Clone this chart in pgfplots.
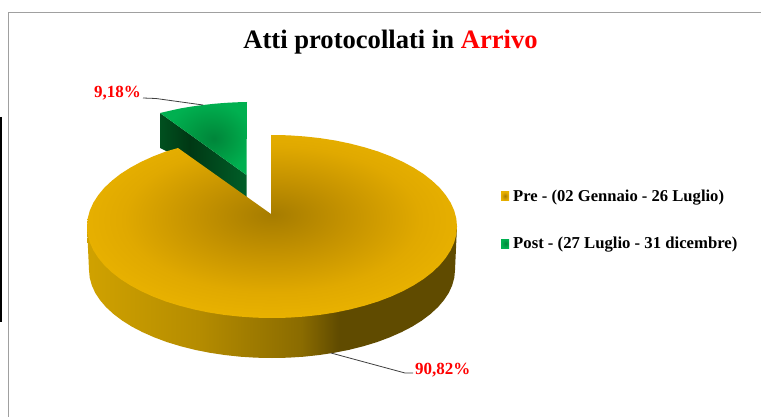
\documentclass[border=0pt]{standalone}
\usepackage{pgfplots}
\pgfplotsset{compat=1.18}
\usepackage{fontspec}
\setmainfont{Liberation Serif}
\definecolor{gA}{HTML}{A67C00}
\definecolor{gB}{HTML}{C49200}
\definecolor{gC}{HTML}{E0A900}
\definecolor{gD}{HTML}{E9B200}
\definecolor{sA}{HTML}{D0A200}
\definecolor{sB}{HTML}{B58C00}
\definecolor{sC}{HTML}{8A6B00}
\definecolor{sD}{HTML}{604B00}
\definecolor{vA}{HTML}{00853A}
\definecolor{vB}{HTML}{009A43}
\definecolor{vC}{HTML}{00B050}
\definecolor{dA}{HTML}{00501F}
\definecolor{dB}{HTML}{003814}
\definecolor{dC}{HTML}{005E28}
\definecolor{bordergray}{HTML}{A0A0A0}
\definecolor{leader}{HTML}{404040}
\pgfdeclareradialshading{goldtop}{\pgfpoint{0bp}{3.3bp}}{color(0bp)=(gA); color(10bp)=(gB); color(20bp)=(gC); color(27bp)=(gD); color(50bp)=(gD)}
\pgfdeclareradialshading{greentop}{\pgfpoint{6bp}{0bp}}{color(0bp)=(vA); color(12bp)=(vB); color(25bp)=(vC); color(50bp)=(vC)}
\pgfdeclarehorizontalshading{goldside}{100bp}{color(0bp)=(sA); color(25bp)=(sA); color(40bp)=(sB); color(54bp)=(sC); color(59bp)=(sD); color(100bp)=(sD)}
\pgfdeclarehorizontalshading{greenside}{100bp}{color(0bp)=(dA); color(25bp)=(dA); color(42bp)=(dB); color(75bp)=(dC); color(100bp)=(dC)}
\begin{document}
\begin{tikzpicture}
\begin{axis}[
  at={(0,0)}, anchor=south west,
  scale only axis, width=761pt, height=417pt,
  xmin=0, xmax=761, ymin=0, ymax=417, y dir=reverse,
  hide axis, clip=true]
% canvas
\addplot[draw=none, fill=white] coordinates {(0,0)(761,0)(761,417)(0,417)} -- cycle;
% frame and bar
\addplot[bordergray, line width=1pt] coordinates {(8.5,417)(8.5,12.5)(761,12.5)};
\addplot[black, line width=2.6pt] coordinates {(1,117)(1,322)};
% green side
\addplot[draw=none, shade, shading=greenside] coordinates {
 (160,113)(246.5,175)(246.5,197)(175,155)(164,150)(160,148)} -- cycle;
% green top (9.18 %)
\addplot[draw=none, shade, shading=greentop] coordinates {
 (160,113)(170,110.7)(181,108.3)(192,106.5)(203,105)(214,103.8)(225,102.9)(236,102.3)(247,102)(246.5,175)} -- cycle;
% gold side
\addplot[draw=none, shade, shading=goldside] coordinates {
 (457,226.5)(455,270)(454.3,277.7)(452.2,285.3)(448.8,292.8)(444,300.1)(437.9,307.2)(430.5,314)(421.9,320.5)(412.2,326.6)(401.4,332.2)(389.6,337.4)(377,342.1)(363.5,346.2)(349.3,349.8)(334.6,352.7)(319.4,355)(303.8,356.7)(288,357.7)(272,358)(256,357.7)(240.2,356.7)(224.6,355)(209.4,352.7)(194.7,349.8)(180.5,346.2)(167,342.1)(154.4,337.4)(142.6,332.2)(131.8,326.6)(122.1,320.5)(113.5,314)(106.1,307.2)(100,300.1)(95.2,292.8)(91.8,285.3)(89.7,277.7)(89,270)(87,226.5)} -- cycle;
% gold top (90.82 %)
\addplot[draw=none, shade, shading=goldtop] coordinates {
 (271,135)(288.1,135.3)(304.1,136.4)(319.9,138.1)(335.3,140.5)(350.2,143.6)(364.5,147.3)(378.1,151.5)(390.9,156.4)(402.8,161.8)(413.7,167.7)(423.6,174)(432.2,180.8)(439.7,187.8)(445.8,195.2)(450.7,202.8)(454.2,210.6)(456.3,218.5)(457,226.5)(456.3,234.5)(454.2,242.4)(450.7,250.2)(445.8,257.8)(439.7,265.2)(432.2,272.3)(423.6,279)(413.7,285.3)(402.8,291.2)(390.9,296.6)(378.1,301.5)(364.5,305.7)(350.2,309.4)(335.3,312.5)(319.9,314.9)(304.1,316.6)(288.1,317.7)(272,318)(255.9,317.7)(239.9,316.6)(224.1,314.9)(208.7,312.5)(193.8,309.4)(179.5,305.7)(165.9,301.5)(153.1,296.6)(141.2,291.2)(130.3,285.3)(120.4,279)(111.8,272.3)(104.3,265.2)(98.2,257.8)(93.3,250.2)(89.8,242.4)(87.7,234.5)(87,226.5)(87.7,218.5)(89.8,210.6)(93.3,202.8)(98.2,195.2)(104.3,187.8)(111.8,180.8)(120.4,174)(130.3,167.7)(141.2,161.8)(153.1,156.4)(165.9,151.5)(178,148)(271,214)} -- cycle;
% leader lines
\addplot[leader, line width=0.8pt] coordinates {(143,98)(156,98.5)(203,105)};
\addplot[leader, line width=0.8pt] coordinates {(331,353)(405,373)(413,373)};
% legend keys
\addplot[draw=none, shade, shading=goldtop] coordinates {(501,192)(509,192)(509,201)(501,201)} -- cycle;
\addplot[draw=none, shade, shading=greentop] coordinates {(501,239)(509,239)(509,248)(501,248)} -- cycle;
% text
\node[anchor=center, font=\fontsize{26.6}{30}\selectfont\bfseries] at (axis cs:390.5,42) {Atti protocollati in \textcolor{red}{Arrivo}};
\node[anchor=east, inner sep=0pt, text=red, font=\fontsize{17}{19}\selectfont\bfseries] at (axis cs:141,93) {9,18\%};
\node[anchor=west, inner sep=0pt, text=red, font=\fontsize{17}{19}\selectfont\bfseries] at (axis cs:415,370) {90,82\%};
\node[anchor=west, inner sep=0pt, font=\fontsize{16.6}{18}\selectfont\bfseries] at (axis cs:513,198) {Pre - (02 Gennaio - 26 Luglio)};
\node[anchor=west, inner sep=0pt, font=\fontsize{16.7}{18}\selectfont\bfseries] at (axis cs:513,245) {Post - (27 Luglio - 31 dicembre)};
\end{axis}
\end{tikzpicture}
\end{document}
